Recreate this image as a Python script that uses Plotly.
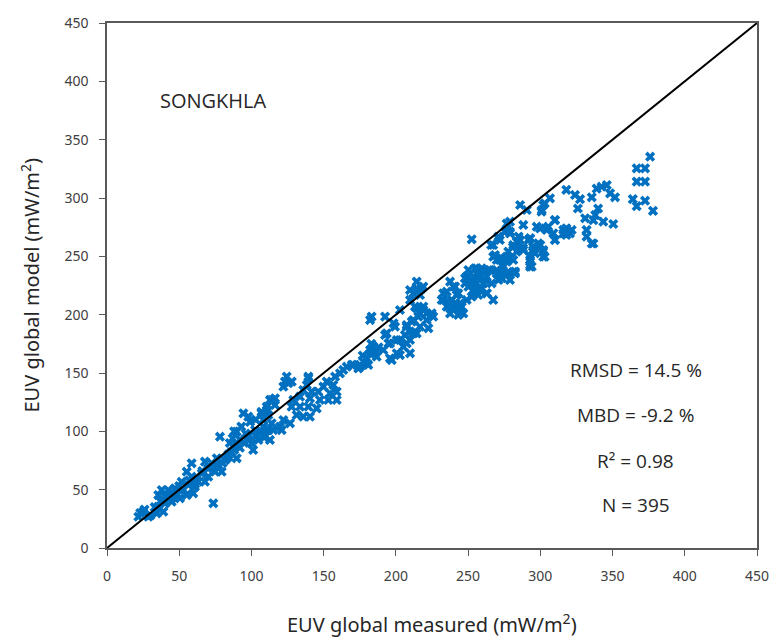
import plotly.graph_objects as go

# Measured (x) and model (y) EUV global values, mW/m^2
pts = [
    # low range
    (67.8,74),(72.5,72.6),(77.1,71.1),(81.7,75.4),(84,78.3),(74.8,65.4),(79.4,65.4),(70.1,61.1),
    (65.6,64),(58.6,72.6),(55.2,65.4),(58.6,61.1),(63.2,56.8),(56.3,54),(51.7,56.8),(67.8,56.8),
    (60.9,52.5),(51.7,49.7),(47.1,51.2),(42.4,49.7),(37.9,49.7),(35.5,45.4),(40.2,44),(45.9,45.4),
    (50.5,42.6),(55.2,45.4),(59.7,46.9),(44.8,39.7),(40.2,38.3),(35.5,35.4),(39,31.1),(34.4,29.7),
    (25.1,31.1),(21.7,26.8),(28.6,26.8),(73.6,38.3),
    (23,30),(26,33),(30,28),(33,35),(37,40),(42,42),(48,47),(53,50),(57,58),(62,60),(66,66),
    (70,68),(75,70),(45,43),(50,53),(61,55),
    # 75-115
    (94.4,115.4),(97.8,112.6),(107,115.4),(111.7,114),(114,106.9),(108.2,104),(102.5,101.1),
    (97.8,95.4),(100.2,89.7),(104.8,92.6),(109.4,95.4),(111.7,101.1),(101.2,84),(89.8,99.7),
    (78.2,95.4),(89.8,76.9),(82.9,76.9),(76,76.9),(86,82),(92,86),(95,90),(88,84),(98,92),
    (103,97),(106,99),(84,80),(80,73),(90,88),(88,100),(93,104),(99,108),(103,110),(96,98),
    (92,93),(85,90),(87,94),
    # 105-160
    (112.8,126.9),(116.3,122.6),(110.6,118.3),(108.2,109.7),(110.6,101.1),(108.2,95.4),(112.8,92.6),
    (152.1,142.6),(156.7,139.7),(159,134),(149.8,138.3),(154.4,132.6),(146.3,134),(141.7,134),
    (135.9,135.4),(133.6,129.7),(140.5,128.3),(147.4,126.9),(153.2,126.9),(159,126.9),(129,126.9),
    (127.8,121.1),(133.6,121.1),(139.4,121.1),(145.2,119.7),(131.3,114),(135.9,112.6),(140.5,112.6),
    (122.1,109.7),(126.7,106.9),(119.8,104),(120.9,101.1),(115.1,101.1),
    (123.2,142.6),(139.4,145.4),(138.3,139.7),(124.4,146.9),(125.5,141.2),(122.1,138.3),
    (127.9,142.6),(139.4,146.9),(114,126.9),(116.3,128.3),(107,116.8),(110.6,121.1),
    (163.6,152.6),(166,155.4),(169.4,156.9),(175.2,156.9),(161.3,149.7),(157.9,146.9),
    # 170-225
    (182.1,195.4),(198.4,192.6),(207.5,191.1),(212.1,184),(193.6,184),(195.9,175.4),(200.6,178.3),
    (207.5,175.4),(209.8,166.9),(202.8,165.4),(197.1,161.1),(182.1,169.7),(185.6,166.9),
    (179.8,158.3),(175.2,155.4),(170.5,156.9),
    (177.5,159.7),(182.1,166.9),(184.4,172.6),(186.7,164),(180.9,156.9),(174,154),(195.9,162.6),
    (180,162),(184,168),(188,172),(183,175),(177,165),
    (202.8,204),(199.4,189.7),(192.5,182.6),(194.8,175.4),(191.3,169.7),(200.6,166.9),
    (205.1,172.6),(209.8,178.3),(214.4,184),(207.5,189.7),(212.1,195.4),(216.7,201.1),(221.3,201.1),
    (225.9,198.3),(219,206.9),(214.4,205.5),(206.3,182.6),(202.8,178.3),(209.8,185.4),
    (183.2,198.3),(192.5,198.3),
    (213.2,206.9),(219,204),(224.8,201.1),(215.5,198.3),(221.3,195.4),(211,194),(216.7,189.7),
    (222.5,188.3),(213.2,185.4),
    (214.4,228.3),(217.9,222.6),(212.1,218.3),(209.8,212.6),(209.8,221.1),(214.4,222.6),
    (219,224),(216.7,216.9),
    # 230-270
    (237.5,228.3),(241,224),(235.2,219.7),(243.2,218.3),(232.8,212.6),(238.6,212.6),(244.4,209.7),
    (235.2,206.9),(241,205.5),(246.7,201.1),(237.5,201.1),(243.2,199.7),
    (239.8,224),(232.8,218.3),(242.1,216.9),(231.7,212.6),(236.3,211.1),(240.9,209.7),(245.6,206.8),
    (239.8,204),(244.4,201.2),
    (250.2,238.3),(254.8,239.7),(259.4,239.7),(264,238.3),(247.9,231.2),(252.5,229.7),(257,232.6),
    (261.7,229.7),(266.3,226.9),(250.2,224),(254.8,221.1),(259.4,222.6),(262.9,218.3),(267.4,212.6),
    (252.5,215.4),(257,216.9),(249,212.6),
    (255.9,239.7),(260.5,238.3),(249,232.6),(253.6,232.6),(258.2,234),(262.9,232.6),(251.3,226.9),
    (255.9,226.9),(260.5,226.9),(253.6,221.1),(258.2,221.1),(262.9,218.3),(265.2,238.3),(247.9,226.9),
    (252.5,264.6),
    # 265-320
    (269.8,238.3),(273.3,235.4),(279,229.7),(282.5,236.9),(271,229.7),(276.7,234),(268.6,251.1),
    (273.3,248.3),(279,248.3),(276.7,245.4),(271,266.9),(266,259.7),(276.7,278),(275.5,271),(279,271),
    (267.4,259.7),(270.9,265.4),(276.7,272.6),(288.2,276.9),(279,269.7),(297.5,275.4),(304.4,272.6),
    (310.2,281.1),(315.9,272.6),(310.2,264),
    (281.3,259.7),(283.6,254),(277.8,254),(285.9,264),(292.9,265.4),(295.1,258.3),(302,255.4),
    (302,249.7),(292.9,246.9),(292.9,241.1),(288.2,255.4),(281.3,246.9),(275.5,248.3),(269.8,246.9),
    (267.4,249.7),(274.4,241.1),(269.8,235.4),(273.3,231.2),(276.7,235.4),(281.3,236.8),
    (283.6,262.6),(286,256.9),(291.7,264),(295,258.3),(298.6,261.2),(296.3,252.6),(294,241.2),
    (286,294),(290.6,289.7),(302,294),(300.8,288.3),
    (310,281),(305.5,275.4),(299.8,274),(301,289.7),(303,295.4),(306.7,299.7),(318,274),
    (320.5,269.7),(316,269.7),(309,269.7),(310,264),(336.7,261),
    (272,264),(281,258),(288,257),(295,255.4),(300,259.7),(302,254),(303,249.7),(293,249.7),
    (293,242.6),(282.5,235.4),(276.7,249.7),(274,238),(272,246.9),(276.7,272.6),(285,266.9),
    (293,265.4),(279,279.7),
    # 315-380
    (376,335.4),(366.7,325.4),(372.5,325.4),(366.7,314),(372.5,314),(364,299),(366.7,293),
    (372.5,297.7),(378,289),(318,307),(324,302.6),(327.5,299),(326,291),(335.6,300.6),(339,308),
    (342.4,309.7),(346,311),(348.3,304),(351.7,300.6),(340,291),(338,285.4),(336.7,281),
    (343.6,279.7),(350.5,277.7),(331,282.6),(321.7,272.6),(318,268.3),(332,272.6),(332,266.9),
    (335.6,261),
]
measured = [p[0] for p in pts]
model = [p[1] for p in pts]

ref_line_x = [0, 450]
ref_line_y = [0, 450]

stats_text = ["RMSD = 14.5 %", "MBD = -9.2 %", "R² = 0.98", "N = 395"]
stats_y = [152.6, 114, 74.6, 36.9]
tick_vals = list(range(0, 451, 50))
x_title = "EUV global measured (mW/m<sup>2</sup>)"
y_title = "EUV global model (mW/m<sup>2</sup>)"

fig = go.Figure()
fig.add_trace(go.Scatter(
    x=measured, y=model, mode="markers",
    marker=dict(symbol="x", size=9, color="#0070C0", line=dict(width=0)),
    showlegend=False, cliponaxis=False,
))
fig.add_trace(go.Scatter(
    x=ref_line_x, y=ref_line_y, mode="lines",
    line=dict(color="black", width=2), showlegend=False,
))

axis_common = dict(
    range=[0, 450], tickvals=tick_vals, ticks="outside", ticklen=6, tickwidth=1,
    tickcolor="#595959", showline=True, linecolor="#595959", linewidth=1.5,
    mirror=True, showgrid=False, zeroline=False, automargin=False,
    ticklabelstandoff=8,
    tickfont=dict(family="Noto Sans", size=14, color="#404040"),
)
fig.update_xaxes(**axis_common)
fig.update_yaxes(**axis_common)

for t, yv in zip(stats_text, stats_y):
    fig.add_annotation(x=366, y=yv, xref="x", yref="y", text=t, showarrow=False,
                       font=dict(family="Open Sans", size=19, color="#262626"))
fig.add_annotation(x=73.4, y=384, xref="x", yref="y", text="SONGKHLA", showarrow=False,
                   font=dict(family="Open Sans", size=20, color="#262626"))

# axis titles placed as annotations
fig.add_annotation(x=0.5, y=0.0, xref="paper", yref="paper", yanchor="top",
                   yshift=-59, text=x_title, showarrow=False,
                   font=dict(family="Noto Sans", size=20, color="#262626"))
fig.add_annotation(x=0.0, y=0.5, xref="paper", yref="paper", xanchor="center",
                   xshift=-77, textangle=-90, text=y_title, showarrow=False,
                   font=dict(family="Noto Sans", size=20, color="#262626"))

fig.update_layout(
    width=774, height=640,
    margin=dict(l=107, r=17, t=23, b=92),
    plot_bgcolor="white", paper_bgcolor="white",
)
fig.write_html("out.html")
